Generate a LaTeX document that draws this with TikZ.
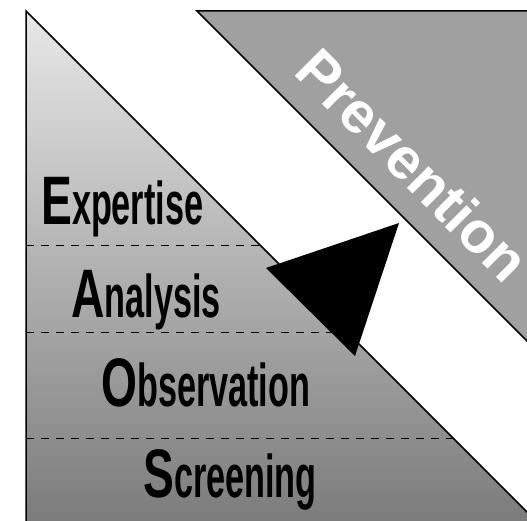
\documentclass[tikz,border=0pt]{standalone}
\usepackage{fontspec}
\newfontfamily\capfont[FakeStretch=0.7]{Liberation Sans}
\newfontfamily\lowfont[FakeStretch=0.59]{Liberation Sans}
\newfontfamily\prevfont{Liberation Sans}
\definecolor{lightlevel}{HTML}{E8E8E8}
\definecolor{darklevel}{HTML}{7A7A7A}
\definecolor{prevgray}{HTML}{A0A0A0}
\newcommand{\levelname}[2]{\scalebox{1}[1.04]{{\capfont\bfseries\fontsize{66}{66}\selectfont #1}{\lowfont\bfseries\fontsize{58}{58}\selectfont #2}}}

\begin{document}
\begin{tikzpicture}[x=1pt,y=-1pt,
				level/.style={anchor=base west,inner sep=0pt},
				divider/.style={dash pattern=on 8pt off 7pt,line width=0.9pt},
				edge/.style={line width=1.5pt}]
				\useasboundingbox (0,0) rectangle (527,521);
				\clip (0,0) rectangle (527,521);
				\fill[prevgray] (197,11) -- (580,11) -- (580,394) -- cycle;
				\draw[edge] (580,11) -- (197,11) -- (580,394);
				\shade[top color=lightlevel,bottom color=darklevel] (26,11) -- (545,530) -- (26,530) -- cycle;
				\draw[divider] (26,245) -- (260,245);
				\draw[divider] (26,332) -- (347,332);
				\draw[divider] (26,438) -- (453,438);
				\draw[edge] (26,530) -- (26,11) -- (545,530);
				\fill (266,268) -- (399,223) -- (355,356) -- cycle;
				\node[level] (expertise) at (41,225) {\levelname{E}{xpertise}};
				\node[level] (analysis) at (71,317) {\levelname{A}{nalysis}};
				\node[level] (observation) at (101,406) {\levelname{O}{bservation}};
				\node[level] (screening) at (143,497) {\levelname{S}{creening}};
				\node[text=white,rotate=-45,inner sep=0pt,font=\prevfont\bfseries\fontsize{58}{58}\selectfont] (prevention) at (413,165) {Prevention};
			  \end{tikzpicture}
\end{document}
